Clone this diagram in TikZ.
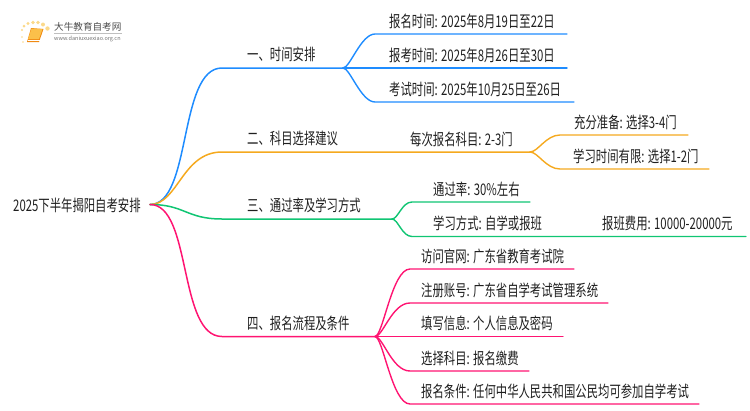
\documentclass[tikz,border=0pt]{standalone}
\usepackage{fontspec}
\setmainfont{Noto Sans CJK SC}[FakeStretch=0.71]
\newfontfamily\logofont{Noto Sans CJK SC}
\definecolor{bluebranch}{HTML}{1E8CFF}
\definecolor{orangebranch}{HTML}{F5A91E}
\definecolor{greenbranch}{HTML}{10C573}
\definecolor{pinkbranch}{HTML}{FF1472}
\definecolor{booklight}{HTML}{FBC04A}
\definecolor{bookdark}{HTML}{F08A12}
\definecolor{logodot}{HTML}{FBD98A}
\tikzset{
  label/.style={anchor=west,inner sep=0pt,text=black!88,font=\fontsize{16}{16}\selectfont},
  branch/.style={line width=1.5pt,line cap=round},
  twig/.style={line width=1.4pt,line cap=round}
}
\begin{document}
\begin{tikzpicture}[x=1pt,y=-1pt]
            \useasboundingbox (0,0) rectangle (750,410);

            % Logo
            \foreach \x/\y/\r in {22/37/.9,22/30/1.2,24/26/1.5,28/23.5/1.7,33/22.5/1.8,38/22.5/1.9,43/24.5/2,47.5/28.5/2.2,23/42/.8}
                \fill[logodot] (\x,\y) circle (\r);
            \fill[bookdark] (27,42) -- (39,42) -- (43.5,29) -- (31,28) -- cycle;
            \fill[booklight] (28,39) -- (39,39) -- (42.5,29) -- (31.5,28.5) -- cycle;
            \draw[white,line width=.7pt] (28,40.2) -- (39.5,40.2);
            \node[anchor=west,inner sep=0pt,text=black!70,font=\logofont\fontsize{9.6}{10}\selectfont] (logotitle) at (54,27) {大牛教育自考网};
            \draw[black!25,line width=.5pt] (54,33.5) -- (122,33.5);
            \node[anchor=west,inner sep=0pt,text=black!55,font=\logofont\fontsize{5.5}{6}\selectfont] (logourl) at (54,38.5) {www.daniuxuexiao.org.cn};

            % Root
            \node[label] (root) at (13,205) {2025下半年揭阳自考安排};
            \coordinate (start) at (150,204.5);

            % Branch titles and where their lines bend and end
            \foreach \nm/\y/\xe/\txt in {time/68/343/一、时间安排,subj/152/530/二、科目选择建议,pass/219/392/三、通过率及学习方式,proc/336.5/375/四、报名流程及条件} {
                \node[label] (\nm) at (247,\y-13.5) {\txt};
                \coordinate (\nm a) at (222,\y);
                \coordinate (\nm b) at (\xe,\y);
            }

            % Root to branches
            \draw[branch,bluebranch] (start) .. controls (192,204.5) and (178,68) .. (timea) -- (timeb);
            \draw[branch,orangebranch] (start) .. controls (178,204.5) and (182,152) .. (subja) -- (subjb);
            \draw[branch,greenbranch] (start) .. controls (185,204.5) and (186,219) .. (passa) -- (passb);
            \draw[branch,pinkbranch] (start) .. controls (192,204.5) and (178,336.5) .. (proca) -- (procb);

            % Leaves: time (loop)
            \foreach \nm/\y/\xe/\txt in {ta/34/567/报名时间: 2025年8月19日至22日,tb/68/567/报考时间: 2025年8月26日至30日,tc/102/574/考试时间: 2025年10月25日至26日} {
                \node[label] (\nm) at (389,\y-13) {\txt};
                \coordinate (\nm e) at (\xe,\y);
                \draw[twig,bluebranch] (timeb) .. controls (350,68) and (361,\y) .. (375,\y) -- (\nm e);
            }

            % Leaves: subjects
            \node[label] (subjleaf) at (410,139) {每次报名科目: 2-3门};
            \foreach \nm/\y/\xe/\x/\txt in {sa/135/688/574/充分准备: 选择3-4门,sb/169/709/573/学习时间有限: 选择1-2门} {
                \node[label] (\nm) at (\x,\y-13) {\txt};
                \coordinate (\nm e) at (\xe,\y);
                \draw[twig,orangebranch] (subjb) .. controls (538,152) and (546,\y) .. (560,\y) -- (\nm e);
            }

            % Leaves: pass rate
            \node[label] (pa) at (433,189) {通过率: 30\%左右};
            \node[label] (pb) at (433,223) {学习方式: 自学或报班};
            \node[label] (pc) at (602,223) {报班费用: 10000-20000元};
            \coordinate (pae) at (530,202);
            \coordinate (pbe) at (746,236.5);
            \draw[twig,greenbranch] (passb) .. controls (398,219) and (402,202) .. (412,202) -- (pae);
            \draw[twig,greenbranch] (passb) .. controls (398,219) and (402,236.5) .. (412,236.5) -- (pbe);

            % Leaves: process (loop)
            \foreach \nm/\y/\xe/\txt in {ra/269/574/访问官网: 广东省教育考试院,rb/303/608/注册账号: 广东省自学考试管理系统,rc/336.5/563/填写信息: 个人信息及密码,rd/371/529/选择科目: 报名缴费,re/404/699/报名条件: 任何中华人民共和国公民均可参加自学考试} {
                \node[label] (\nm) at (421,\y-13) {\txt};
                \coordinate (\nm e) at (\xe,\y);
                \draw[twig,pinkbranch] (procb) .. controls (383,336.5) and (392,\y) .. (410,\y) -- (\nm e);
            }

        \end{tikzpicture}
\end{document}
